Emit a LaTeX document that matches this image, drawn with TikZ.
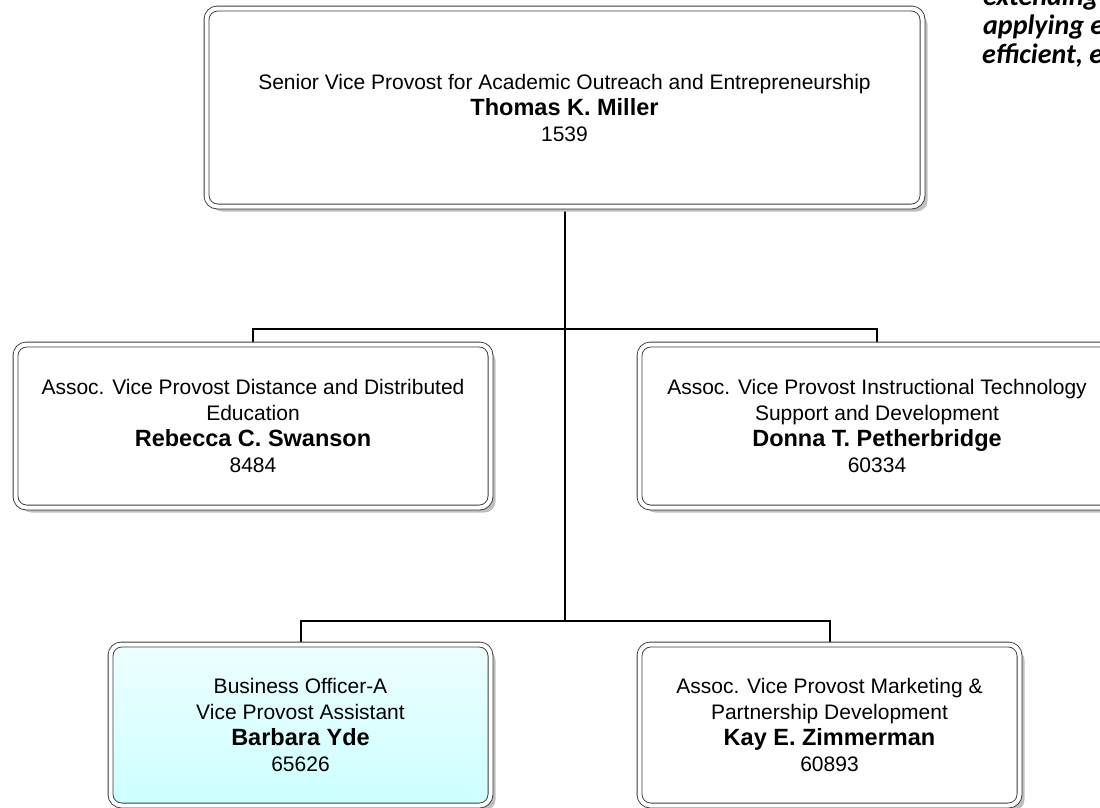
\documentclass[tikz,border=0pt]{standalone}
\usepackage{fontspec}
\setmainfont{Liberation Sans}
\newfontfamily\missionfont{Carlito}
\usetikzlibrary{shadows,backgrounds}
\definecolor{boxline}{RGB}{60,60,60}
\definecolor{assistcyan}{RGB}{204,255,255}
\newcommand{\namefont}{\fontsize{23.5}{26}\selectfont\bfseries}
\tikzset{
  unit/.style={draw=boxline, line width=0.9pt, double=white, double distance=4pt,
    rounded corners=11pt, fill=white, align=center, inner sep=0pt,
    font=\fontsize{21}{26}\selectfont,
    drop shadow={shadow xshift=5pt, shadow yshift=-5pt, fill=black!25, opacity=1}},
  link/.style={draw=black, line width=2pt},
  mission/.style={font=\missionfont\fontsize{28}{29}\selectfont\bfseries\itshape,
    anchor=base west, inner sep=0pt}
}
\begin{document}
\begin{tikzpicture}[x=1pt,y=-1pt]
  \useasboundingbox (0,0) rectangle (1100,807);
  \clip (0,0) rectangle (1100,807);
  % top of the chart
  \node[unit, minimum width=716pt, minimum height=198pt] (vp) at (564.5,107.5)
    {Senior Vice Provost for Academic Outreach and Entrepreneurship\\
     {\namefont Thomas K. Miller}\\ 1539};
  % second row
  \node[unit, minimum width=475pt, minimum height=163pt] (dde) at (253,426)
    {Assoc. Vice Provost Distance and Distributed\\ Education\\
     {\namefont Rebecca C. Swanson}\\ 8484};
  \node[unit, minimum width=475pt, minimum height=163pt] (itsd) at (877,426)
    {Assoc. Vice Provost Instructional Technology\\ Support and Development\\
     {\namefont Donna T. Petherbridge}\\ 60334};
  % third row
  \node[unit, minimum width=380pt, minimum height=161pt,
        top color=assistcyan!35, bottom color=assistcyan] (bo) at (300.5,725)
    {Business Officer-A\\ Vice Provost Assistant\\
     {\namefont Barbara Yde}\\ 65626};
  \node[unit, minimum width=380pt, minimum height=161pt] (mkt) at (829.5,725)
    {Assoc. Vice Provost Marketing \&\\ Partnership Development\\
     {\namefont Kay E. Zimmerman}\\ 60893};
  % connectors
    \coordinate (split1) at (564.5,329);
    \coordinate (split2) at (564.5,621);
  \begin{scope}[on background layer]
    \draw[link] (vp.south) -- (split2);
    \draw[link] (dde.north) |- (split1) -| (itsd.north);
    \draw[link] (bo.north) |- (split2) -| (mkt.north);
  \end{scope}
  % mission text, cut at the edge
  \node[mission] (m1) at (983,5) {extending};
  \node[mission] (m2) at (983,34) {applying e};
  \node[mission] (m3) at (982,63) {efficient, e};
\end{tikzpicture}
\end{document}
